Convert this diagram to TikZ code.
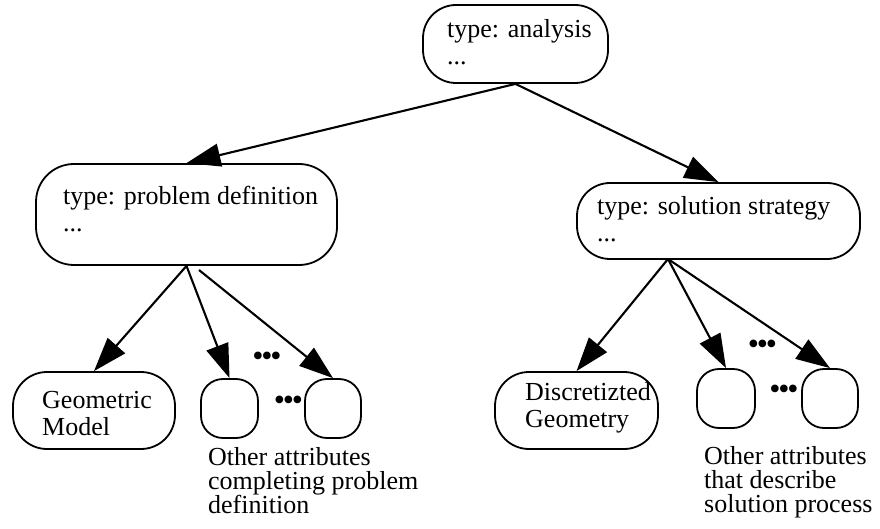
\documentclass[tikz,border=0pt]{standalone}
\usepackage{fontspec}
\setmainfont{Liberation Serif}
\usetikzlibrary{arrows.meta}
\newcommand{\tripledot}{•\kern-2.2pt•\kern-2.2pt•}
\begin{document}
\begin{tikzpicture}[x=1pt, y=-1pt,
  box/.style={draw, line width=1.8pt, inner sep=0pt, rounded corners=#1},
  box/.default=30pt,
  txt/.style={anchor=base west, inner sep=0pt, align=left,
    font=\fontsize{26}{27}\selectfont},
  note/.style={anchor=base west, inner sep=0pt, align=left,
    font=\fontsize{26}{24}\selectfont},
  dots/.style={inner sep=0pt, font=\fontsize{32}{32}\selectfont},
  link/.style={line width=2.1pt, -{Triangle[length=34pt, width=23pt]}}]
\useasboundingbox (0,0) rectangle (880,529);

% frames
\node[box=33pt, minimum width=185pt, minimum height=78pt] (an) at (515.5,44) {};
\node[box=38pt, minimum width=301pt, minimum height=101pt] (pd) at (186.5,214.5) {};
\node[box=33pt, minimum width=283pt, minimum height=76pt] (ss) at (718.5,221) {};
\node[box=34pt, minimum width=162pt, minimum height=77pt] (gm) at (94,410.5) {};
\node[box=22pt, minimum width=57pt, minimum height=59pt] (pa) at (229.5,408.5) {};
\node[box=22pt, minimum width=56pt, minimum height=59pt] (pb) at (333,408.5) {};
\node[box=34pt, minimum width=163pt, minimum height=77pt] (dg) at (576.5,410.5) {};
\node[box=22pt, minimum width=58pt, minimum height=59pt] (sa) at (726,398.5) {};
\node[box=22pt, minimum width=56pt, minimum height=59pt] (sb) at (830,398.5) {};

% texts (anchored on the baseline of their last line)
\node[txt] (antxt) at (447,65) {type: analysis\\...};
\node[txt] (pdtxt) at (63,232) {type: problem definition\\...};
\node[txt] (sstxt) at (597,241) {type: solution strategy\\...};
\node[txt] (gmtxt) at (42,435) {Geometric\\Model};
\node[txt] (dgtxt) at (525,427) {Discretizted\\Geometry};
\node[note] (pdnote) at (208,513) {Other attributes\\completing problem\\definition};
\node[note] (ssnote) at (704,512) {Other attributes\\that describe\\solution process};

% ellipses between the attribute frames
\node[dots] (d1) at (267,359) {\tripledot};
\node[dots] (d2) at (288.5,403) {\tripledot};
\node[dots] (d3) at (762.5,347) {\tripledot};
\node[dots] (d4) at (784,392) {\tripledot};

% connectors
\coordinate (pdfoot) at (199,270);
\coordinate (ssfoot) at (668,259);
\draw[link] (an.south) -- (pd.north);
\draw[link] (an.south) -- (ss.north);
\draw[link] (pd.south) -- (gm.north);
\draw[link] (pd.south) -- (pa.north);
\draw[link] (pdfoot) -- (pb.north);
\draw[link] (ssfoot) -- (dg.north);
\draw[link] (ssfoot) -- (sa.north);
\draw[link] (ssfoot) -- (sb.north);
\end{tikzpicture}
\end{document}
